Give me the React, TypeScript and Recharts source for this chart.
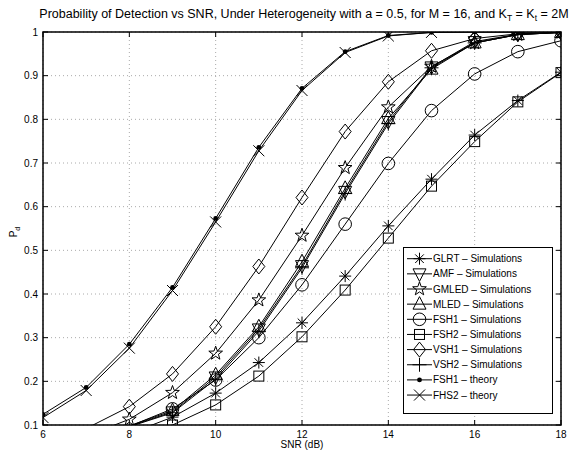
import React from "react";
import {
  ComposedChart,
  Line,
  XAxis,
  YAxis,
  CartesianGrid,
  ReferenceArea,
  Legend,
} from "recharts";

// SNR (dB)
const snr = [6, 7, 8, 9, 10, 11, 12, 13, 14, 15, 16, 17, 18];

// probability of detection per detector
const glrtSim = [0.04, 0.055, 0.08, 0.118, 0.173, 0.243, 0.334, 0.441, 0.556, 0.663, 0.764, 0.843, 0.908];
const amfSim = [0.045, 0.065, 0.097, 0.13, 0.21, 0.32, 0.465, 0.635, 0.795, 0.92, 0.978, 0.995, 0.999];
const gmledSim = [0.05, 0.075, 0.113, 0.174, 0.264, 0.386, 0.534, 0.689, 0.828, 0.921, 0.975, 0.994, 0.999];
const mledSim = [0.045, 0.066, 0.098, 0.133, 0.215, 0.325, 0.474, 0.642, 0.802, 0.915, 0.975, 0.994, 0.999];
const fsh1Sim = [0.045, 0.065, 0.097, 0.137, 0.203, 0.3, 0.421, 0.56, 0.699, 0.82, 0.904, 0.955, 0.98];
const fsh2Sim = [0.035, 0.048, 0.066, 0.1, 0.146, 0.212, 0.302, 0.409, 0.528, 0.647, 0.749, 0.84, 0.907];
const vsh1Sim = [0.06, 0.092, 0.142, 0.217, 0.325, 0.463, 0.621, 0.772, 0.886, 0.957, 0.985, 0.996, 0.999];
const vsh2Sim = [0.044, 0.064, 0.096, 0.128, 0.205, 0.315, 0.46, 0.63, 0.79, 0.918, 0.975, 0.994, 0.999];
const fsh1Theory = [0.1245, 0.186, 0.285, 0.415, 0.573, 0.736, 0.871, 0.955, 0.992, 0.999, 1, 1, 1];
const fhs2Theory = [0.117, 0.179, 0.276, 0.408, 0.565, 0.728, 0.866, 0.953, 0.991, 0.999, 1, 1, 1];

const xTicks = [6, 8, 10, 12, 14, 16, 18];
const yTicks = [0.1, 0.2, 0.3, 0.4, 0.5, 0.6, 0.7, 0.8, 0.9, 1];

type Shape = "asterisk" | "tridown" | "star" | "triup" | "circle" | "square" | "diamond" | "plus" | "dot" | "x";

const series: { key: string; name: string; shape: Shape; values: number[] }[] = [
  { key: "glrt", name: "GLRT \u2013 Simulations", shape: "asterisk", values: glrtSim },
  { key: "amf", name: "AMF \u2013 Simulations", shape: "tridown", values: amfSim },
  { key: "gmled", name: "GMLED \u2013 Simulations", shape: "star", values: gmledSim },
  { key: "mled", name: "MLED \u2013 Simulations", shape: "triup", values: mledSim },
  { key: "fsh1", name: "FSH1 \u2013 Simulations", shape: "circle", values: fsh1Sim },
  { key: "fsh2", name: "FSH2 \u2013 Simulations", shape: "square", values: fsh2Sim },
  { key: "vsh1", name: "VSH1 \u2013 Simulations", shape: "diamond", values: vsh1Sim },
  { key: "vsh2", name: "VSH2 \u2013 Simulations", shape: "plus", values: vsh2Sim },
  { key: "fsh1t", name: "FSH1 \u2013 theory", shape: "dot", values: fsh1Theory },
  { key: "fhs2t", name: "FHS2 \u2013 theory", shape: "x", values: fhs2Theory },
];

const data = snr.map((s, i) => {
  const row: Record<string, number> = { snr: s };
  series.forEach((sr) => (row[sr.key] = sr.values[i]));
  return row;
});

const W = 571;
const H = 450;
const MARGIN = { top: 32, right: 10, bottom: 0, left: 0 };
const PLOT_TOP = MARGIN.top;
const PLOT_RIGHT = W - MARGIN.right;
const TICK_MARGIN = 4;
const FONT = "'Liberation Sans', Arial, Helvetica, sans-serif";

function Marker({ shape, cx, cy }: { shape: Shape; cx: number; cy: number }) {
  const s = { stroke: "#000", strokeWidth: 1, fill: "none" };
  switch (shape) {
    case "circle":
      return <circle cx={cx} cy={cy} r={6.3} {...s} />;
    case "square":
      return <rect x={cx - 5} y={cy - 5} width={10} height={10} {...s} />;
    case "diamond":
      return <polygon points={`${cx},${cy - 7.5} ${cx + 6},${cy} ${cx},${cy + 7.5} ${cx - 6},${cy}`} {...s} />;
    case "triup":
      return <polygon points={`${cx},${cy - 7.5} ${cx + 6.5},${cy + 5} ${cx - 6.5},${cy + 5}`} {...s} />;
    case "tridown":
      return <polygon points={`${cx},${cy + 7.5} ${cx + 6.5},${cy - 5} ${cx - 6.5},${cy - 5}`} {...s} />;
    case "star": {
      const pts: string[] = [];
      for (let k = 0; k < 10; k++) {
        const r = k % 2 === 0 ? 7.2 : 2.9;
        const a = -Math.PI / 2 + (k * Math.PI) / 5;
        pts.push(`${cx + r * Math.cos(a)},${cy + r * Math.sin(a)}`);
      }
      return <polygon points={pts.join(" ")} {...s} />;
    }
    case "asterisk":
      return (
        <path
          d={`M${cx - 6},${cy}H${cx + 6}M${cx},${cy - 6}V${cy + 6}M${cx - 4.3},${cy - 4.3}L${cx + 4.3},${cy + 4.3}M${cx - 4.3},${cy + 4.3}L${cx + 4.3},${cy - 4.3}`}
          {...s}
        />
      );
    case "plus":
      return <path d={`M${cx - 7},${cy}H${cx + 7}M${cx},${cy - 7}V${cy + 7}`} {...s} />;
    case "dot":
      return <circle cx={cx} cy={cy} r={2.4} fill="#000" stroke="none" />;
    case "x":
      return <path d={`M${cx - 5.5},${cy - 5.5}L${cx + 5.5},${cy + 5.5}M${cx - 5.5},${cy + 5.5}L${cx + 5.5},${cy - 5.5}`} {...s} />;
  }
  return null;
}

const XTick = (props: any) => {
  const { x, y, payload } = props;
  const ay = y - TICK_MARGIN;
  return (
    <g>
      <line x1={x} x2={x} y1={ay} y2={ay - 5} stroke="#000" />
      <line x1={x} x2={x} y1={PLOT_TOP} y2={PLOT_TOP + 5} stroke="#000" />
      <text x={x} y={y + 9} textAnchor="middle" fontSize={10} fontFamily={FONT} fill="#000">
        {payload.value}
      </text>
    </g>
  );
};

const YTick = (props: any) => {
  const { x, y, payload } = props;
  const ax = x + TICK_MARGIN;
  return (
    <g>
      <line x1={ax} x2={ax + 5} y1={y} y2={y} stroke="#000" />
      <line x1={PLOT_RIGHT} x2={PLOT_RIGHT - 5} y1={y} y2={y} stroke="#000" />
      <text x={x - 1} y={y + 3.5} textAnchor="end" fontSize={10} fontFamily={FONT} fill="#000">
        {payload.value}
      </text>
    </g>
  );
};

const LegendBox = () => {
  const rowH = 15.15;
  return (
    <svg width={150} height={167} style={{ display: "block" }}>
      <rect x={0.5} y={0.5} width={149} height={166} fill="#fff" stroke="#000" />
      {series.map((sr, i) => {
        const cy = 11.7 + i * rowH;
        return (
          <g key={sr.key}>
            <line x1={4} x2={29} y1={cy} y2={cy} stroke="#000" />
            <Marker shape={sr.shape} cx={16.5} cy={cy} />
            <text x={30} y={cy + 3.5} fontSize={10} fontFamily={FONT} fill="#000">
              {sr.name}
            </text>
          </g>
        );
      })}
    </svg>
  );
};

export default function App() {
  return (
    <div style={{ width: W, height: H, background: "#fff" }}>
      <style>{`body{margin:0;background:#fff}`}</style>
      <ComposedChart width={W} height={H} data={data} margin={MARGIN}>
        <CartesianGrid stroke="#aaa" strokeDasharray="1 3" horizontalValues={yTicks} verticalValues={xTicks} />
        <XAxis
          type="number"
          dataKey="snr"
          domain={[6, 18]}
          ticks={xTicks}
          height={25}
          tickSize={0}
          tickMargin={TICK_MARGIN}
          tick={<XTick />}
          axisLine={false}
          interval={0}
          allowDataOverflow
        />
        <YAxis
          type="number"
          domain={[0.1, 1]}
          ticks={yTicks}
          width={43}
          tickSize={0}
          tickMargin={TICK_MARGIN}
          tick={<YTick />}
          axisLine={false}
          interval={0}
          allowDataOverflow
        />
        <ReferenceArea x1={6} x2={18} y1={0.1} y2={1} fill="none" stroke="#000" strokeWidth={1.5} ifOverflow="visible" />
        {series.map((sr) => (
          <Line
            key={sr.key}
            dataKey={sr.key}
            name={sr.name}
            type="linear"
            stroke="#000"
            strokeWidth={1}
            isAnimationActive={false}
            activeDot={false}
            dot={(p: any) => {
              if (p.value < 0.1 || p.value > 1) return <g key={`${sr.key}-${p.index}`} />;
              return (
                <g key={`${sr.key}-${p.index}`}>
                  <Marker shape={sr.shape} cx={p.cx} cy={p.cy} />
                </g>
              );
            }}
          />
        ))}
        <Legend
          layout="vertical"
          align="center"
          verticalAlign="middle"
          content={<LegendBox />}
          wrapperStyle={{ left: 403, top: 247, width: 150, height: 167 }}
        />
        <text x={304} y={18} textAnchor="middle" fontSize={12.5} fontFamily={FONT} fill="#000">
          Probability of Detection vs SNR, Under Heterogeneity with a = 0.5, for M = 16, and K
          <tspan dy={3} fontSize={8.5}>T</tspan>
          <tspan dy={-3}> = K</tspan>
          <tspan dy={3} fontSize={8.5}>t</tspan>
          <tspan dy={-3}> = 2M</tspan>
        </text>
        <text x={302} y={448} textAnchor="middle" fontSize={10} fontFamily={FONT} fill="#000">
          SNR (dB)
        </text>
        <text x={0} y={0} transform="translate(17,232) rotate(-90)" textAnchor="middle" fontSize={10} fontFamily={FONT} fill="#000">
          P<tspan dy={3} fontSize={7}>d</tspan>
        </text>
      </ComposedChart>
    </div>
  );
}
